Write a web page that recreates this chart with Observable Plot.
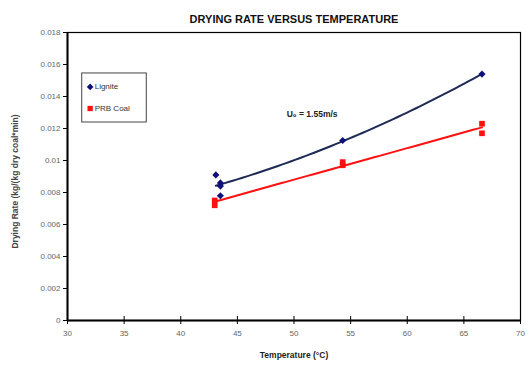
<!DOCTYPE html>
<html><head><meta charset="utf-8">
<script src="https://cdn.jsdelivr.net/npm/d3@7"></script>
<script src="https://cdn.jsdelivr.net/npm/@observablehq/plot@0.6"></script>
<style>
body{margin:0;background:#fff;font-family:Arial,"Liberation Sans",sans-serif;}
</style></head>
<body><div id="chart"></div>
<script>
const ligniteTemp = [43.1, 43.5, 43.5, 43.5, 54.3, 66.6];
const ligniteRate = [0.0091, 0.0086, 0.0084, 0.0078, 0.01125, 0.0154];
const prbTemp = [43.0, 43.0, 54.3, 54.3, 66.6, 66.6];
const prbRate = [0.0075, 0.0072, 0.0099, 0.0097, 0.0123, 0.0117];
const xTicks = [30, 35, 40, 45, 50, 55, 60, 65, 70];
const yTicks = [0, 0.002, 0.004, 0.006, 0.008, 0.01, 0.012, 0.014, 0.016, 0.018];
const seriesNames = ["Lignite", "PRB Coal"];
const titleText = "DRYING RATE VERSUS TEMPERATURE";
const xLabel = "Temperature (°C)";
const yLabel = "Drying Rate (kg/(kg dry coal*min)";
const annotation = "U₀ = 1.55m/s";

const lignite = ligniteTemp.map((t, i) => ({t, r: ligniteRate[i]}));
const prb = prbTemp.map((t, i) => ({t, r: prbRate[i]}));

// least-squares polynomial trend (like a spreadsheet trendline)
function polyFit(pts, deg) {
  const n = deg + 1;
  const A = Array.from({length: n}, () => new Array(n + 1).fill(0));
  for (const p of pts) {
    for (let i = 0; i < n; i++) {
      for (let j = 0; j < n; j++) A[i][j] += Math.pow(p.t, i + j);
      A[i][n] += p.r * Math.pow(p.t, i);
    }
  }
  for (let c = 0; c < n; c++) {
    let piv = c;
    for (let r = c + 1; r < n; r++) if (Math.abs(A[r][c]) > Math.abs(A[piv][c])) piv = r;
    [A[c], A[piv]] = [A[piv], A[c]];
    for (let r = 0; r < n; r++) if (r !== c) {
      const f = A[r][c] / A[c][c];
      for (let k = c; k <= n; k++) A[r][k] -= f * A[c][k];
    }
  }
  const coef = A.map((row, i) => row[n] / row[i]);
  const [lo, hi] = d3.extent(pts, d => d.t);
  return d3.range(0, 61).map(k => {
    const t = lo + (hi - lo) * k / 60;
    return {t, r: coef.reduce((s, c, i) => s + c * Math.pow(t, i), 0)};
  });
}
const ligTrend = polyFit(lignite, 2);
const prbTrend = polyFit(prb, 1);

const navy = "#10107a";
const red = "#ff1010";

const chart = Plot.plot({
  width: 530, height: 365,
  marginLeft: 67, marginRight: 10, marginTop: 32, marginBottom: 45,
  style: {fontFamily: "Arial, 'Liberation Sans', sans-serif", background: "#fff"},
  x: {domain: [30, 70], ticks: xTicks, label: null},
  y: {domain: [0, 0.018], ticks: yTicks, label: null},
  marks: [
    Plot.frame({stroke: "#000", strokeWidth: 1.2}),
    Plot.ruleX([30], {stroke: "#000", strokeWidth: 2}),
    Plot.ruleY([0], {stroke: "#000", strokeWidth: 2}),
    Plot.axisY({ticks: yTicks, tickSize: 4, tickPadding: 3, fontSize: 8, fill: "#666", stroke: "#000",
      tickFormat: d => String(+d.toFixed(3)), label: null}),
    Plot.axisX({ticks: xTicks, tickSize: 8, dy: -4, stroke: "#000", tickFormat: () => "", label: null}),
    Plot.axisX({ticks: xTicks, tickSize: 0, tickPadding: 10, fontSize: 8, fill: "#666", label: null}),
    Plot.line(ligTrend, {x: "t", y: "r", stroke: "#1c2a55", strokeWidth: 2}),
    Plot.line(prbTrend, {x: "t", y: "r", stroke: red, strokeWidth: 2}),
    Plot.dot(lignite, {x: "t", y: "r", symbol: "diamond2", fill: navy, stroke: "none", r: 3.2}),
    Plot.dot(prb, {x: "t", y: "r", symbol: "square", fill: red, r: 3.2}),
    Plot.text([titleText], {frameAnchor: "top", dy: -17, fontSize: 11, fontWeight: "bold", fill: "#111"}),
    Plot.text([xLabel], {frameAnchor: "bottom", dy: 37, fontSize: 8.5, fontWeight: "bold", fill: "#222"}),
    Plot.text([yLabel], {frameAnchor: "left", textAnchor: "middle", dx: -52, dy: 5, rotate: -90, fontSize: 8.5, fontWeight: "bold", fill: "#444"}),
    Plot.text([annotation], {x: 51.6, y: 0.0129, fontSize: 8.5, fontWeight: "bold", fill: "#222"}),
    // legend
    Plot.rect([0], {x1: 31.3, x2: 37, y1: 0.012375, y2: 0.01544, stroke: "#444", strokeWidth: 1, fill: "#fff"}),
    Plot.dot([0], {x: 32.0, y: 0.0146, symbol: "diamond2", fill: navy, stroke: "none", r: 3}),
    Plot.dot([0], {x: 32.0, y: 0.01325, symbol: "square", fill: red, r: 3}),
    Plot.text([seriesNames[0]], {x: 32.4, y: 0.0146, textAnchor: "start", fontSize: 8, fill: "#333"}),
    Plot.text([seriesNames[1]], {x: 32.4, y: 0.01325, textAnchor: "start", fontSize: 8, fill: "#333"})
  ]
});
document.getElementById("chart").appendChild(chart);
</script>
</body></html>
